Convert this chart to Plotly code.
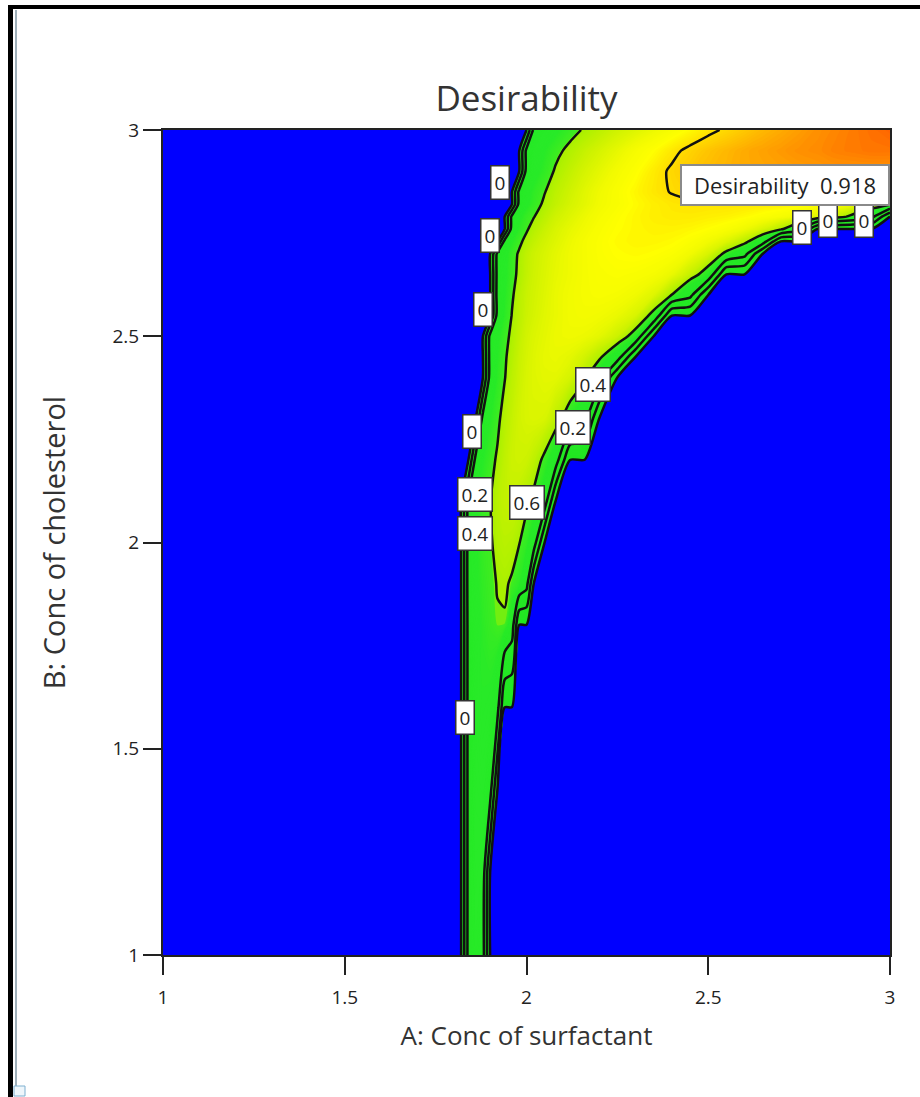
import plotly.graph_objects as go

# ---------------- data ----------------
surfactant = [1.00, 1.60, 1.80, 1.82, 1.84, 1.86, 1.88, 1.90, 1.92, 1.94,
              1.96, 1.98, 2.00, 2.02, 2.05, 2.08, 2.12, 2.16, 2.20, 2.25,
              2.30, 2.35, 2.40, 2.45, 2.50, 2.55, 2.60, 2.65, 2.70, 2.75,
              2.80, 2.85, 2.90, 2.95, 3.00]

cholesterol = [1.0, 1.2, 1.4, 1.6, 1.8, 1.9, 2.0, 2.1, 2.2, 2.3, 2.4, 2.45,
               2.5, 2.55, 2.6, 2.65, 2.7, 2.73, 2.76, 2.79, 2.82, 2.85,
               2.9, 2.95, 3.0]

desirability = [
    # y = 1.0
    [0, 0, 0, 0, .46, .50, .47, 0, 0, 0, 0, 0, 0, 0, 0, 0, 0, 0, 0, 0, 0, 0, 0, 0, 0, 0, 0, 0, 0, 0, 0, 0, 0, 0, 0],
    # y = 1.2
    [0, 0, 0, 0, .46, .51, .50, 0, 0, 0, 0, 0, 0, 0, 0, 0, 0, 0, 0, 0, 0, 0, 0, 0, 0, 0, 0, 0, 0, 0, 0, 0, 0, 0, 0],
    # y = 1.4
    [0, 0, 0, 0, .46, .52, .53, .47, 0, 0, 0, 0, 0, 0, 0, 0, 0, 0, 0, 0, 0, 0, 0, 0, 0, 0, 0, 0, 0, 0, 0, 0, 0, 0, 0],
    # y = 1.6
    [0, 0, 0, 0, .46, .53, .55, .54, .47, 0, 0, 0, 0, 0, 0, 0, 0, 0, 0, 0, 0, 0, 0, 0, 0, 0, 0, 0, 0, 0, 0, 0, 0, 0, 0],
    # y = 1.8
    [0, 0, 0, 0, .46, .53, .56, .58, .598, .597, .50, 0, 0, 0, 0, 0, 0, 0, 0, 0, 0, 0, 0, 0, 0, 0, 0, 0, 0, 0, 0, 0, 0, 0, 0],
    # y = 1.9
    [0, 0, 0, 0, .47, .54, .57, .59, .605, .61, .595, .56, .47, 0, 0, 0, 0, 0, 0, 0, 0, 0, 0, 0, 0, 0, 0, 0, 0, 0, 0, 0, 0, 0, 0],
    # y = 2.0
    [0, 0, 0, 0, .47, .54, .58, .595, .62, .63, .625, .605, .57, .50, 0, 0, 0, 0, 0, 0, 0, 0, 0, 0, 0, 0, 0, 0, 0, 0, 0, 0, 0, 0, 0],
    # y = 2.1
    [0, 0, 0, 0, .45, .54, .58, .60, .63, .645, .65, .64, .615, .585, .50, 0, 0, 0, 0, 0, 0, 0, 0, 0, 0, 0, 0, 0, 0, 0, 0, 0, 0, 0, 0],
    # y = 2.2
    [0, 0, 0, 0, 0, .46, .55, .585, .61, .64, .66, .665, .66, .64, .585, .50, 0, 0, 0, 0, 0, 0, 0, 0, 0, 0, 0, 0, 0, 0, 0, 0, 0, 0, 0],
    # y = 2.3
    [0, 0, 0, 0, 0, 0, .47, .55, .59, .625, .65, .67, .68, .685, .68, .64, .55, .47, 0, 0, 0, 0, 0, 0, 0, 0, 0, 0, 0, 0, 0, 0, 0, 0, 0],
    # y = 2.4
    [0, 0, 0, 0, 0, 0, 0, .48, .56, .60, .635, .66, .68, .69, .70, .70, .675, .62, .50, 0, 0, 0, 0, 0, 0, 0, 0, 0, 0, 0, 0, 0, 0, 0, 0],
    # y = 2.45
    [0, 0, 0, 0, 0, 0, 0, .47, .55, .595, .625, .655, .675, .69, .705, .71, .70, .67, .62, .50, 0, 0, 0, 0, 0, 0, 0, 0, 0, 0, 0, 0, 0, 0, 0],
    # y = 2.5
    [0, 0, 0, 0, 0, 0, 0, .46, .54, .585, .615, .645, .67, .685, .70, .715, .72, .715, .70, .66, .56, 0, 0, 0, 0, 0, 0, 0, 0, 0, 0, 0, 0, 0, 0],
    # y = 2.55
    [0, 0, 0, 0, 0, 0, 0, 0, .47, .56, .605, .635, .66, .675, .695, .71, .725, .73, .725, .71, .68, .57, 0, 0, 0, 0, 0, 0, 0, 0, 0, 0, 0, 0, 0],
    # y = 2.6
    [0, 0, 0, 0, 0, 0, 0, 0, .47, .55, .595, .63, .655, .67, .69, .71, .725, .735, .74, .735, .72, .69, .60, .46, 0, 0, 0, 0, 0, 0, 0, 0, 0, 0, 0],
    # y = 2.65
    [0, 0, 0, 0, 0, 0, 0, 0, .46, .54, .585, .615, .645, .665, .685, .705, .72, .735, .745, .75, .745, .735, .71, .65, .55, 0, 0, 0, 0, 0, 0, 0, 0, 0, 0],
    # y = 2.7
    [0, 0, 0, 0, 0, 0, 0, 0, .45, .53, .58, .61, .64, .66, .68, .70, .72, .735, .75, .76, .765, .76, .75, .725, .68, .58, .47, 0, 0, 0, 0, 0, 0, 0, 0],
    # y = 2.73
    [0, 0, 0, 0, 0, 0, 0, 0, 0, .46, .55, .59, .62, .645, .67, .69, .715, .735, .75, .765, .77, .77, .765, .75, .725, .69, .63, .50, 0, 0, 0, 0, 0, 0, 0],
    # y = 2.76
    [0, 0, 0, 0, 0, 0, 0, 0, 0, 0, .48, .56, .595, .625, .655, .68, .705, .725, .745, .76, .77, .775, .775, .77, .76, .745, .72, .68, .62, .48, 0, 0, 0, 0, 0],
    # y = 2.79
    [0, 0, 0, 0, 0, 0, 0, 0, 0, 0, .45, .54, .58, .60, .635, .665, .69, .715, .735, .755, .77, .78, .785, .785, .78, .775, .765, .75, .735, .715, .69, .65, .57, .46, 0],
    # y = 2.82
    [0, 0, 0, 0, 0, 0, 0, 0, 0, 0, 0, .47, .54, .575, .615, .645, .675, .70, .725, .745, .765, .78, .79, .795, .795, .795, .79, .785, .78, .77, .76, .745, .72, .68, .62],
    # y = 2.85
    [0, 0, 0, 0, 0, 0, 0, 0, 0, 0, 0, .46, .53, .565, .60, .635, .665, .695, .72, .745, .77, .79, .805, .815, .82, .825, .825, .825, .825, .825, .82, .815, .81, .805, .80],
    # y = 2.9
    [0, 0, 0, 0, 0, 0, 0, 0, 0, 0, 0, 0, .47, .53, .57, .61, .645, .675, .70, .73, .755, .785, .81, .83, .845, .855, .865, .87, .875, .88, .885, .89, .89, .89, .89],
    # y = 2.95
    [0, 0, 0, 0, 0, 0, 0, 0, 0, 0, 0, 0, .45, .51, .55, .585, .62, .65, .675, .705, .735, .76, .79, .815, .835, .85, .865, .875, .885, .895, .90, .91, .915, .92, .92],
    # y = 3.0
    [0, 0, 0, 0, 0, 0, 0, 0, 0, 0, 0, 0, 0, .45, .50, .54, .58, .61, .635, .665, .69, .715, .74, .765, .79, .81, .83, .85, .865, .88, .895, .905, .915, .925, .935],
]

# contour levels: "0" (edge of the feasible region), 0.2, 0.4, 0.6, 0.8
line_level_start = 0.0025
line_level_end = 0.81
line_level_step = 0.2

label_text = ["0", "0", "0", "0", "0", "0.2", "0.4", "0.6", "0.2", "0.4", "0", "0", "0"]
label_x = [1.927, 1.900, 1.880, 1.850, 1.831, 1.858, 1.858, 2.001, 2.128, 2.183, 2.757, 2.829, 2.929]
label_y = [2.872, 2.745, 2.565, 2.268, 1.575, 2.117, 2.023, 2.096, 2.278, 2.382, 2.763, 2.780, 2.780]

optimum_text = "Desirability  0.918"
optimum_x = 3.0
optimum_y = 2.867

tick_vals = [1, 1.5, 2, 2.5, 3]
tick_text = ["1", "1.5", "2", "2.5", "3"]

# ---------------- figure ----------------
W, H = 920, 1097
ML, MR, MT, MB = 163, 30, 130, 142
PW, PH = W - ML - MR, H - MT - MB
FONT = "Open Sans, Arial, sans-serif"


def pxx(px):
    return (px - ML) / PW


def pxy(py):
    return (H - MB - py) / PH


colorscale = [
    [0.0, "#0000FF"], [0.0004, "#0000FF"], [0.0006, "#22E622"],
    [0.55, "#28EA28"], [0.595, "#3EEC20"], [0.605, "#A8F000"],
    [0.66, "#CCF200"], [0.72, "#F0FA00"], [0.76, "#FFFF00"],
    [0.80, "#FFE000"], [0.85, "#FFB800"], [0.90, "#FF8C00"],
    [0.94, "#FF6000"], [1.0, "#FF3000"],
]

fig = go.Figure()
# smooth colour fill: many thin bands, colour scale spans 0..1
fig.add_trace(go.Contour(
    x=surfactant, y=cholesterol, z=desirability,
    autocontour=False,
    contours=dict(start=0.0025, end=0.9975, size=0.005,
                  coloring="fill", showlines=False),
    colorscale=colorscale, zmin=0, zmax=1, zauto=False,
    line=dict(width=0, smoothing=0.7),
    showscale=False, hoverinfo="skip",
))
# black contour lines
fig.add_trace(go.Contour(
    x=surfactant, y=cholesterol, z=desirability,
    autocontour=False,
    contours=dict(start=line_level_start, end=line_level_end,
                  size=line_level_step, coloring="none", showlabels=False),
    line=dict(color="#111111", width=2.5, smoothing=0.7),
    showscale=False, hoverinfo="skip",
))

annotations = []
for t, lx, ly in zip(label_text, label_x, label_y):
    annotations.append(dict(
        x=lx, y=ly, xref="x", yref="y", text=t, showarrow=False,
        font=dict(family=FONT, size=19, color="#222"),
        bgcolor="white", bordercolor="#333", borderwidth=1.5, borderpad=3,
    ))
annotations.append(dict(
    x=optimum_x, y=optimum_y, xref="x", yref="y", text=optimum_text,
    showarrow=False, xanchor="right", yanchor="middle",
    width=202, height=34, align="center",
    font=dict(family=FONT, size=22, color="#222"),
    bgcolor="white", bordercolor="#8a8a8a", borderwidth=2, borderpad=2,
))

shapes = [
    dict(type="rect", xref="paper", yref="paper",
         x0=pxx(8), x1=pxx(920), y0=pxy(9), y1=pxy(5),
         fillcolor="black", line=dict(width=0), layer="above"),
    dict(type="rect", xref="paper", yref="paper",
         x0=pxx(8), x1=pxx(13), y0=pxy(1097), y1=pxy(5),
         fillcolor="black", line=dict(width=0), layer="above"),
    dict(type="rect", xref="paper", yref="paper",
         x0=pxx(15), x1=pxx(17), y0=pxy(1088), y1=pxy(10),
         fillcolor="#9FB0BA", line=dict(width=0), layer="above"),
    dict(type="rect", xref="paper", yref="paper",
         x0=pxx(14), x1=pxx(25), y0=pxy(1096), y1=pxy(1086),
         fillcolor="#EEF6FB", line=dict(width=1, color="#7FB0D0"), layer="above"),
]

axis_common = dict(
    range=[1, 3], tickvals=tick_vals, ticktext=tick_text,
    ticks="outside", ticklen=18, tickwidth=2, tickcolor="#222",
    showline=True, linecolor="#222", linewidth=2, mirror=True,
    showgrid=False, zeroline=False,
    tickfont=dict(family=FONT, size=19, color="#222"),
)

fig.update_layout(
    width=W, height=H,
    margin=dict(l=ML, r=MR, t=MT, b=MB, autoexpand=False),
    paper_bgcolor="white", plot_bgcolor="#0000FF",
    title=dict(text="Desirability", x=0.5, xref="paper", xanchor="center",
               y=1 - 99 / H, yref="container", yanchor="middle",
               font=dict(family=FONT, size=35, color="#333")),
    xaxis=dict(**axis_common, ticklabelstandoff=6,
               title=dict(text="A: Conc of surfactant", standoff=18,
                          font=dict(family=FONT, size=26, color="#333"))),
    yaxis=dict(**axis_common,
               title=dict(text="B: Conc of cholesterol", standoff=38,
                          font=dict(family=FONT, size=29, color="#333"))),
    annotations=annotations,
    shapes=shapes,
    showlegend=False,
)

fig.write_html("out.html")
